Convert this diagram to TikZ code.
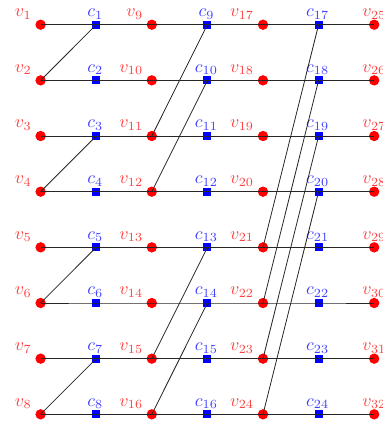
\documentclass[tikz,border=0pt]{standalone}
\begin{document}
\begin{tikzpicture}[x=0.56pt,y=-0.56pt,
  vn/.style={circle,fill=red,inner sep=0,minimum size=5.8pt},
  cn/.style={rectangle,fill=blue,inner sep=0,minimum size=4.5pt},
  vlab/.style={anchor=base east,inner sep=0,text=red!75},
  vlabr/.style={anchor=base west,inner sep=0,text=red!75},
  clab/.style={anchor=base,inner sep=0,text=blue!75},
  edge/.style={draw=black!85,line width=0.45pt}]
\useasboundingbox (0,0) rectangle (383,422);
\foreach \j in {1,...,8} {
  \pgfmathsetmacro{\yy}{24.7+55.66*(\j-1)}
  \pgfmathsetmacro{\ly}{\yy-8.2}
  \pgfmathtruncatemacro{\a}{\j+8}
  \pgfmathtruncatemacro{\b}{\j+16}
  \pgfmathtruncatemacro{\d}{\j+24}
  \node[vn] (v\j) at (40.6,\yy) {};
  \node[cn] (c\j) at (96.2,\yy) {};
  \node[vn] (v\a) at (151.8,\yy) {};
  \node[cn] (c\a) at (207.4,\yy) {};
  \node[vn] (v\b) at (263.0,\yy) {};
  \node[cn] (c\b) at (318.6,\yy) {};
  \node[vn] (v\d) at (374.2,\yy) {};
  \node[vlab] (lv\j) at (32.0,\ly) {$v_{\j}$};
  \node[clab] (lc\j) at (95.2,\ly) {$c_{\j}$};
  \node[vlab] (lv\a) at (143.4,\ly) {$v_{\a}$};
  \node[clab] (lc\a) at (206.4,\ly) {$c_{\a}$};
  \node[vlab] (lv\b) at (254.3,\ly) {$v_{\b}$};
  \node[clab] (lc\b) at (317.6,\ly) {$c_{\b}$};
  \node[vlabr] (lv\d) at (362.0,\ly) {$v_{\d}$};
  \draw[edge] (v\j.center) -- (c\j.center) -- (v\a.center) -- (c\a.center) -- (v\b.center) -- (c\b.center) -- (v\d.center);
}
\foreach \c/\v in {1/2,3/4,5/6,7/8,9/11,10/12,13/15,14/16,17/21,18/22,19/23,20/24}
  \draw[edge] (c\c.center) -- (v\v.center);
\end{tikzpicture}
\end{document}
